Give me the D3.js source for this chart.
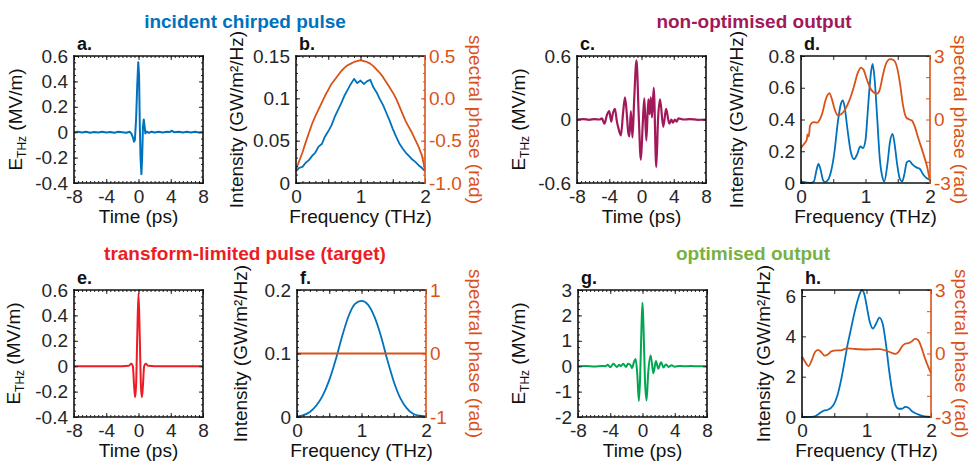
<!DOCTYPE html>
<html>
<head>
<meta charset="utf-8">
<script src="https://cdn.jsdelivr.net/npm/d3@7"></script>
<style>
  body { margin: 0; background: #fff; }
  svg { font-family: "Liberation Sans", Arial, Helvetica, sans-serif; }
</style>
</head>
<body>
<svg id="fig" width="972" height="461"></svg>
<script>
"use strict";

// ---- data ----

// tick labels
var timeTicks = [-8, -4, 0, 4, 8];
var freqTicks = [0, 1, 2];
var ticksA = [-0.4, -0.2, 0, 0.2, 0.4, 0.6];
var ticksB = [0, 0.05, 0.1, 0.15];
var ticksB2 = [-1, -0.5, 0, 0.5];
var ticksC = [-0.6, 0, 0.6];
var ticksD = [0, 0.2, 0.4, 0.6, 0.8];
var ticksPhase3 = [-3, 0, 3];
var ticksF = [0, 0.1, 0.2];
var ticksF2 = [-1, 0, 1];
var ticksG = [-2, -1, 0, 1, 2, 3];
var ticksH = [0, 2, 4, 6];

// a. incident chirped pulse, [time ps, field MV/m]
var pulseA = [[-8,0],[-7.5,0.004],[-7,-0.003],[-6.5,0.003],[-6,-0.004],[-5.5,0.002],[-5,-0.002],
  [-4.5,0.004],[-4,-0.003],[-3.5,0.002],[-3,-0.004],[-2.5,0.003],[-2,0],[-1.5,-0.004],[-1.1,0.004],
  [-0.9,-0.01],[-0.7,-0.04],[-0.55,-0.075],[-0.45,-0.06],[-0.3,0.1],[-0.15,0.38],[-0.03,0.55],
  [0.07,0.45],[0.15,0.1],[0.25,-0.2],[0.36,-0.33],[0.45,-0.2],[0.55,0.04],[0.65,0.1],[0.75,0.05],
  [0.85,-0.01],[1,0.005],[1.3,-0.006],[1.6,0.004],[2,-0.003],[2.5,0.004],[3,-0.002],[3.5,0.003],
  [3.9,0.002],[4.1,0.012],[4.4,0],[5,0.003],[5.5,-0.003],[6,0.003],[6.5,-0.002],[7,0.004],
  [7.5,-0.002],[8,0.001]];

// b. spectrum of the incident pulse
var freqB = [0,0.05,0.1,0.15,0.2,0.25,0.3,0.35,0.4,0.45,0.5,0.55,0.6,0.65,0.7,0.75,0.8,0.85,0.9,0.95,
  1,1.05,1.1,1.15,1.2,1.25,1.3,1.35,1.4,1.45,1.5,1.55,1.6,1.65,1.7,1.75,1.8,1.85,1.9,1.95,2];
var intensB = [0.014,0.018,0.019,0.024,0.027,0.032,0.036,0.043,0.046,0.055,0.061,0.068,0.078,0.086,
  0.094,0.103,0.11,0.117,0.123,0.118,0.121,0.117,0.12,0.122,0.113,0.107,0.099,0.092,0.083,0.074,
  0.064,0.055,0.047,0.041,0.036,0.032,0.028,0.025,0.021,0.018,0.014];
var phaseB = [-0.84,-0.74,-0.64,-0.52,-0.41,-0.3,-0.21,-0.13,-0.05,0.03,0.1,0.17,0.22,0.27,0.32,
  0.36,0.39,0.41,0.43,0.44,0.45,0.44,0.43,0.41,0.38,0.34,0.3,0.25,0.19,0.13,0.07,0,-0.09,-0.18,
  -0.27,-0.34,-0.41,-0.49,-0.57,-0.67,-0.84];

// c. non-optimised output pulse
var pulseC = [[-8,0],[-7.2,0.004],[-6.5,-0.003],[-5.8,0.004],[-5.2,0],[-4.9,0.01],[-4.6,-0.04],
  [-4.3,0.04],[-4,0.08],[-3.75,-0.02],[-3.6,0.04],[-3.3,0.1],[-3.05,-0.02],[-2.8,-0.1],[-2.55,-0.15],
  [-2.3,0.05],[-2.05,0.21],[-1.85,0.08],[-1.65,-0.12],[-1.5,-0.16],[-1.32,0.08],[-1.12,-0.17],
  [-0.9,0.2],[-0.62,0.56],[-0.35,0.05],[-0.08,-0.38],[0.15,-0.05],[0.35,0.2],[0.6,-0.2],[0.85,0.19],
  [1,0.05],[1.15,0.21],[1.3,0.02],[1.52,0.3],[1.83,-0.45],[2.05,0],[2.3,0.19],[2.7,-0.07],[3.05,0.1],
  [3.45,-0.04],[3.7,0],[3.9,-0.03],[4.15,0],[4.35,-0.02],[4.6,0.01],[5.2,0],[6,0.004],[7,-0.003],[8,0]];

// d. spectrum of the non-optimised output
var intensD = [[0,0.008],[0.05,0.006],[0.1,0.002],[0.15,0],[0.2,0.01],[0.24,0.08],[0.27,0.12],
  [0.3,0.09],[0.34,0.02],[0.37,0.005],[0.42,0.02],[0.47,0.08],[0.52,0.2],[0.57,0.38],[0.62,0.5],
  [0.65,0.52],[0.68,0.47],[0.72,0.34],[0.77,0.2],[0.82,0.15],[0.87,0.18],[0.92,0.23],[0.96,0.22],
  [1,0.27],[1.04,0.48],[1.08,0.68],[1.11,0.75],[1.14,0.66],[1.18,0.42],[1.22,0.16],[1.26,0.04],
  [1.29,0.01],[1.34,0.12],[1.38,0.26],[1.42,0.31],[1.45,0.25],[1.49,0.12],[1.53,0.03],[1.57,0.01],
  [1.6,0.05],[1.64,0.13],[1.68,0.14],[1.72,0.12],[1.78,0.1],[1.84,0.09],[1.9,0.05],[1.95,0.03],[2,0.02]];
var phaseD = [[0,-1.34],[0.05,-1.15],[0.09,-0.95],[0.1,-0.7],[0.12,-0.8],[0.14,-0.3],[0.17,-0.15],
  [0.2,-0.12],[0.25,-0.15],[0.3,0.05],[0.34,0.4],[0.37,0.8],[0.41,1.15],[0.44,1.25],[0.48,0.95],
  [0.52,0.5],[0.57,0.2],[0.62,0.25],[0.68,0.45],[0.75,0.9],[0.82,1.55],[0.88,2.2],[0.93,2.45],
  [0.97,2.35],[1.02,1.9],[1.07,1.5],[1.12,1.3],[1.18,1.22],[1.22,1.4],[1.27,2.1],[1.32,2.65],
  [1.38,2.85],[1.44,2.8],[1.49,2.45],[1.54,1.6],[1.58,0.7],[1.63,0.1],[1.68,0],[1.72,-0.05],
  [1.76,-0.3],[1.82,-0.9],[1.9,-1.65],[1.96,-2.3],[2,-2.95]];

// e. transform-limited target pulse
var pulseE = [[-8,0],[-2,0],[-1.2,0.003],[-0.9,0.02],[-0.7,0],[-0.55,-0.15],[-0.42,-0.245],
  [-0.3,-0.15],[-0.15,0.25],[0,0.575],[0.15,0.25],[0.3,-0.15],[0.42,-0.245],[0.55,-0.15],[0.7,0],
  [0.9,0.02],[1.2,0.003],[2,0],[8,0]];

// f. target spectrum
var intensF = [[0,0.001],[0.1,0.003],[0.2,0.008],[0.3,0.018],[0.4,0.034],[0.5,0.058],[0.6,0.09],
  [0.7,0.127],[0.8,0.159],[0.9,0.178],[1,0.183],[1.1,0.177],[1.2,0.158],[1.3,0.128],[1.4,0.09],
  [1.5,0.056],[1.6,0.03],[1.7,0.014],[1.8,0.005],[1.9,0.002],[2,0.001]];
var phaseF = [[0,0],[2,0]];

// g. optimised output pulse
var pulseG = [[-8,0],[-7,0.01],[-6,-0.01],[-5,0.01],[-4.6,0],[-4.3,0.06],[-4,-0.04],[-3.6,0.1],
  [-3.2,-0.03],[-2.9,0.06],[-2.7,0],[-2.4,0.1],[-2.05,-0.03],[-1.8,0.1],[-1.5,0.05],[-1.3,-0.08],
  [-1.1,0.12],[-0.85,0.28],[-0.65,-0.3],[-0.45,-1.37],[-0.3,-0.5],[-0.12,1.6],[0,2.5],[0.12,1.6],
  [0.3,-0.5],[0.5,-1.35],[0.7,-0.3],[1,0.42],[1.15,0.15],[1.35,-0.28],[1.67,0.2],[1.95,-0.1],
  [2.3,0.16],[2.6,-0.05],[2.9,0.07],[3.25,-0.03],[3.6,0.04],[4,-0.02],[4.6,0.01],[5,0],[6,0.005],
  [7,-0.005],[8,0]];

// h. spectrum of the optimised output
var intensH = [[0,0],[0.1,0],[0.2,0.03],[0.25,0.13],[0.3,0.25],[0.35,0.33],[0.4,0.36],[0.45,0.45],
  [0.5,0.66],[0.55,1.08],[0.6,1.74],[0.65,2.57],[0.7,3.48],[0.75,4.23],[0.8,4.98],[0.85,5.64],
  [0.9,6.14],[0.93,6.3],[0.97,6.05],[1,5.56],[1.05,4.73],[1.1,4.39],[1.15,4.64],[1.2,4.93],
  [1.25,4.64],[1.3,3.65],[1.35,2.32],[1.4,1.24],[1.45,0.58],[1.5,0.41],[1.55,0.41],[1.6,0.5],
  [1.65,0.46],[1.7,0.3],[1.8,0.13],[1.9,0.03],[2,0]];
var phaseH = [[0,-0.14],[0.05,-0.4],[0.1,-0.6],[0.15,-0.33],[0.2,0.06],[0.25,0.17],[0.3,0.06],
  [0.35,-0.1],[0.4,-0.05],[0.45,0.09],[0.5,0.14],[0.6,0.15],[0.7,0.24],[0.8,0.22],[0.9,0.2],
  [1,0.19],[1.1,0.2],[1.2,0.21],[1.3,0.14],[1.4,0.02],[1.45,-0.02],[1.5,0.09],[1.55,0.33],
  [1.6,0.46],[1.65,0.49],[1.7,0.57],[1.75,0.69],[1.8,0.64],[1.85,0.3],[1.9,-0.17],[1.95,-0.57],[2,-0.93]];

// ---- drawing ----

var BLUE = "#0072BD", ORANGE = "#D95319", PURPLE = "#A2195B",
    RED = "#ED1C24", GREEN = "#00A651", TITLE_GREEN = "#77B142", INK = "#262626";
var W = 129, H = 127, FS = 19;

var svg = d3.select("#fig");

var near = function(list, d) {
    return list.some(function(v) { return Math.abs(v - d) < 1e-9; });
};

var drawAxis = function(g, gen, scale, values, size, labels, fmt, tr, color, pad) {
    var ax = g.append("g").attr("transform", tr)
        .call(gen(scale).tickValues(values).tickSizeInner(-size).tickSizeOuter(0)
            .tickPadding(pad)
            .tickFormat(function(d) { return labels && near(labels, d) ? fmt(d) : ""; }));
    ax.attr("font-size", FS).attr("font-family", null);
    ax.select(".domain").remove();
    ax.selectAll("line").attr("stroke", color).attr("stroke-width", 1);
    ax.selectAll("text").attr("fill", color);
};

var plain = function(d) { return d === 0 ? "0" : String(d); };
var oneDec = function(d) { return d.toFixed(1); };

var panel = function(p) {
    var g = svg.append("g").attr("transform", "translate(" + p.left + "," + p.top + ")");
    var x = d3.scaleLinear().domain(p.xDomain).range([0, W]);
    var y = d3.scaleLinear().domain(p.yDomain).range([H, 0]);
    var y2 = p.y2Domain ? d3.scaleLinear().domain(p.y2Domain).range([H, 0]) : null;

    var line = d3.line()
        .x(function(d) { return x(d[0]); })
        .y(function(d) { return y(d[1]); })
        .curve(p.curve || d3.curveMonotoneX);

    p.series.forEach(function(s) {
        var sc = s.right ? y2 : y;
        g.append("path")
            .datum(s.data)
            .attr("fill", "none")
            .attr("stroke", s.color)
            .attr("stroke-width", s.width || 1.8)
            .attr("stroke-linejoin", "round")
            .attr("d", line.y(function(d) { return sc(d[1]); }));
    });

    // x ticks, bottom and top
    var xMajor = p.xMajor, xMinor = p.xMinor || [];
    drawAxis(g, d3.axisBottom, x, xMinor, 2, null, null, "translate(0," + H + ")", INK, 0);
    drawAxis(g, d3.axisTop, x, xMinor, 2, null, null, "translate(0,0)", INK, 0);
    drawAxis(g, d3.axisBottom, x, xMajor, 4, p.xLabels, plain, "translate(0," + H + ")", INK, 7);
    drawAxis(g, d3.axisTop, x, xMajor, 4, null, null, "translate(0,0)", INK, 0);

    // left y ticks
    drawAxis(g, d3.axisLeft, y, p.yMinor || [], 2, null, null, "translate(0,0)", INK, 0);
    drawAxis(g, d3.axisLeft, y, p.yMajor, 4, p.yLabels, p.yFmt || plain, "translate(0,0)", INK, 6);

    if (y2) {
        drawAxis(g, d3.axisRight, y2, p.y2Minor || [], 2, null, null, "translate(" + W + ",0)", ORANGE, 0);
        drawAxis(g, d3.axisRight, y2, p.y2Major, 4, p.y2Labels, p.y2Fmt || plain, "translate(" + W + ",0)", ORANGE, 4);
    } else {
        drawAxis(g, d3.axisRight, y, p.yMinor || [], 2, null, null, "translate(" + W + ",0)", INK, 0);
        drawAxis(g, d3.axisRight, y, p.yMajor, 4, null, null, "translate(" + W + ",0)", INK, 0);
    }

    // frame
    var frame = [
        [0, 0, W, 0, "#111"], [0, H, W, H, "#111"], [0, 0, 0, H, "#111"], [W, 0, W, H, y2 ? ORANGE : "#111"]
    ];
    frame.forEach(function(f) {
        g.append("line").attr("x1", f[0]).attr("y1", f[1]).attr("x2", f[2]).attr("y2", f[3])
            .attr("stroke", f[4]).attr("stroke-width", 1.6).attr("stroke-linecap", "square");
    });

    // panel letter
    g.append("text").attr("x", 3).attr("y", -6)
        .attr("font-size", 18).attr("font-weight", "bold").attr("fill", "#111")
        .text(p.letter);

    // x label
    g.append("text").attr("x", W / 2).attr("y", H + 40)
        .attr("text-anchor", "middle").attr("font-size", FS).attr("fill", "#111")
        .text(p.xTitle);

    // y label
    var yl = g.append("text")
        .attr("transform", "translate(" + (-p.yOff) + "," + (H / 2) + ") rotate(-90)")
        .attr("text-anchor", "middle").attr("font-size", FS).attr("fill", "#111");
    if (p.field) {
        yl.append("tspan").text("E");
        yl.append("tspan").attr("dy", 4).attr("font-size", 12).text("THz");
        yl.append("tspan").attr("dy", -4).text(" (MV/m)");
    } else {
        yl.text("Intensity (GW/m\u00B2/Hz)");
    }

    if (y2) {
        g.append("text")
            .attr("transform", "translate(" + (W + p.y2Off) + "," + (H / 2) + ") rotate(90)")
            .attr("text-anchor", "middle").attr("font-size", FS).attr("fill", ORANGE)
            .text("spectral phase (rad)");
    }
};

var timeMinor = d3.range(-8, 8.001, 0.5);
var freqMajor = [0, 0.5, 1, 1.5, 2];
var freqMinor = d3.range(0, 2.001, 0.1);

// titles
var titles = [
    ["incident chirped pulse", 245, 28, BLUE],
    ["non-optimised output", 754, 28, PURPLE],
    ["transform-limited pulse (target)", 245, 260, RED],
    ["optimised output", 753, 260, TITLE_GREEN]
];
titles.forEach(function(t) {
    svg.append("text").attr("x", t[1]).attr("y", t[2])
        .attr("text-anchor", "middle").attr("font-size", 19).attr("font-weight", "bold")
        .attr("fill", t[3]).text(t[0]);
});

panel({
    letter: "a.", left: 74, top: 56, field: true, yOff: 52, xTitle: "Time (ps)",
    xDomain: [-8, 8], yDomain: [-0.4, 0.6], curve: d3.curveLinear,
    xMajor: timeTicks, xLabels: timeTicks, xMinor: timeMinor,
    yMajor: ticksA, yLabels: ticksA, yMinor: d3.range(-0.4, 0.601, 0.05),
    series: [{ data: pulseA, color: BLUE, width: 2 }]
});

panel({
    letter: "b.", left: 296, top: 56, yOff: 53, y2Off: 44, xTitle: "Frequency (THz)",
    xDomain: [0, 2], yDomain: [0, 0.15], y2Domain: [-1, 0.5], curve: d3.curveLinear,
    xMajor: freqMajor, xLabels: freqTicks, xMinor: freqMinor,
    yMajor: ticksB, yLabels: ticksB, yMinor: d3.range(0, 0.1501, 0.01),
    y2Major: ticksB2, y2Labels: ticksB2, y2Minor: d3.range(-1, 0.501, 0.1), y2Fmt: oneDec,
    series: [
        { data: freqB.map(function(f, i) { return [f, intensB[i]]; }), color: BLUE },
        { data: freqB.map(function(f, i) { return [f, phaseB[i]]; }), color: ORANGE, right: true }
    ]
});

panel({
    letter: "c.", left: 577, top: 56, field: true, yOff: 52, xTitle: "Time (ps)",
    xDomain: [-8, 8], yDomain: [-0.6, 0.6],
    xMajor: timeTicks, xLabels: timeTicks, xMinor: timeMinor,
    yMajor: ticksC, yLabels: ticksC, yMinor: d3.range(-0.6, 0.601, 0.1),
    series: [{ data: pulseC, color: PURPLE, width: 2.2 }]
});

panel({
    letter: "d.", left: 801, top: 56, yOff: 58, y2Off: 24, xTitle: "Frequency (THz)",
    xDomain: [0, 2], yDomain: [0, 0.8], y2Domain: [-3, 3],
    xMajor: freqMajor, xLabels: freqTicks,
    yMajor: ticksD, yLabels: ticksD,
    y2Major: [-3, -2, -1, 0, 1, 2, 3], y2Labels: ticksPhase3,
    series: [
        { data: intensD, color: BLUE },
        { data: phaseD, color: ORANGE, right: true }
    ]
});

panel({
    letter: "e.", left: 74, top: 290, field: true, yOff: 54, xTitle: "Time (ps)",
    xDomain: [-8, 8], yDomain: [-0.4, 0.6],
    xMajor: timeTicks, xLabels: timeTicks, xMinor: timeMinor,
    yMajor: ticksA, yLabels: ticksA, yMinor: d3.range(-0.4, 0.601, 0.05),
    series: [{ data: pulseE, color: RED, width: 2 }]
});

panel({
    letter: "f.", left: 297, top: 290, yOff: 50, y2Off: 43, xTitle: "Frequency (THz)",
    xDomain: [0, 2], yDomain: [0, 0.2], y2Domain: [-1, 1],
    xMajor: freqMajor, xLabels: freqTicks, xMinor: freqMinor,
    yMajor: ticksF, yLabels: ticksF, yMinor: d3.range(0, 0.2001, 0.01),
    y2Major: ticksF2, y2Labels: ticksF2, y2Minor: d3.range(-1, 1.001, 0.1),
    series: [
        { data: intensF, color: BLUE },
        { data: phaseF, color: ORANGE, right: true }
    ]
});

panel({
    letter: "g.", left: 578, top: 290, field: true, yOff: 53, xTitle: "Time (ps)",
    xDomain: [-8, 8], yDomain: [-2, 3],
    xMajor: timeTicks, xLabels: timeTicks, xMinor: timeMinor,
    yMajor: ticksG, yLabels: ticksG, yMinor: d3.range(-2, 3.001, 0.25),
    series: [{ data: pulseG, color: GREEN, width: 2 }]
});

panel({
    letter: "h.", left: 802, top: 290, yOff: 32, y2Off: 24, xTitle: "Frequency (THz)",
    xDomain: [0, 2], yDomain: [0, 6.3], y2Domain: [-3, 3],
    xMajor: freqMajor, xLabels: freqTicks,
    yMajor: ticksH, yLabels: ticksH,
    y2Major: [-3, -2, -1, 0, 1, 2, 3], y2Labels: ticksPhase3,
    series: [
        { data: intensH, color: BLUE },
        { data: phaseH, color: ORANGE, right: true }
    ]
});
</script>
</body>
</html>
